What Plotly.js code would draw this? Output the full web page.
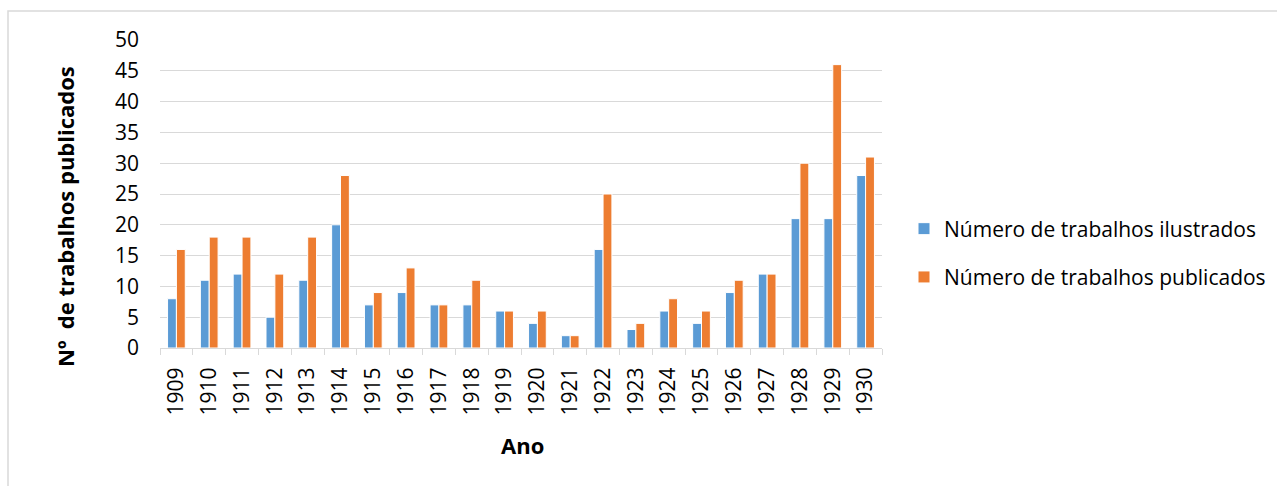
<!DOCTYPE html>
<html>
<head>
<meta charset="utf-8">
<script src="https://cdn.plot.ly/plotly-3.0.1.min.js"></script>
<style>
  html, body { margin: 0; padding: 0; background: #ffffff; }
  #chart { width: 1277px; height: 486px; }
</style>
</head>
<body>
<div id="chart"></div>
<script>
const years = ['1909','1910','1911','1912','1913','1914','1915','1916','1917','1918','1919','1920','1921','1922','1923','1924','1925','1926','1927','1928','1929','1930'];
const ilustrados = [8, 11, 12, 5, 11, 20, 7, 9, 7, 7, 6, 4, 2, 16, 3, 6, 4, 9, 12, 21, 21, 28];
const publicados = [16, 18, 18, 12, 18, 28, 9, 13, 7, 11, 6, 6, 2, 25, 4, 8, 6, 11, 12, 30, 46, 31];
const seriesNames = ['Número de trabalhos ilustrados', 'Número de trabalhos publicados'];
const yTicks = [0, 5, 10, 15, 20, 25, 30, 35, 40, 45, 50];
const xTitle = 'Ano';
const yTitle = 'Nº  de trabalhos publicados';

const FONT = 'Open Sans, Liberation Sans, sans-serif';
const W = 1277, H = 486;
const M = {l: 160, r: 395, t: 40, b: 138};
const pw = W - M.l - M.r, ph = H - M.t - M.b;
const px = x => (x - M.l) / pw;
const py = y => (H - M.b - y) / ph;

const traces = [
  {type: 'bar', x: years, y: ilustrados, name: seriesNames[0], legendgroup: 'a',
   marker: {color: '#5B9BD5', line: {color: '#ffffff', width: 1}}},
  {type: 'bar', x: years, y: publicados, name: seriesNames[1], legendgroup: 'b',
   marker: {color: '#ED7D31', line: {color: '#ffffff', width: 1}}}
];

const layout = {
  width: W, height: H,
  margin: M,
  paper_bgcolor: '#ffffff', plot_bgcolor: '#ffffff',
  font: {family: FONT, size: 21, color: '#000000'},
  barmode: 'group', bargap: 0.46, bargroupgap: 0,
  showlegend: true,
  legend: {
    xref: 'container', yref: 'container',
    x: 904 / W, y: (H - 253) / H, xanchor: 'left', yanchor: 'middle',
    font: {family: FONT, size: 21, color: '#000000'},
    tracegroupgap: 18, traceorder: 'grouped',
    bgcolor: 'rgba(0,0,0,0)', borderwidth: 0
  },
  xaxis: {
    type: 'category', tickangle: -90,
    showline: true, linecolor: '#D9D9D9', linewidth: 1,
    ticks: 'outside', tickson: 'boundaries', ticklen: 6, tickcolor: '#D9D9D9', tickwidth: 1,
    showgrid: false, ticklabelstandoff: 10,
    tickfont: {family: FONT, size: 21, color: '#000000'},
    fixedrange: true
  },
  yaxis: {
    range: [0, 50], tickvals: yTicks, ticktext: yTicks.map(String),
    showgrid: true, gridcolor: '#D9D9D9', gridwidth: 1,
    zeroline: false, showline: false, ticks: '',
    ticklabelstandoff: 20,
    tickfont: {family: FONT, size: 21, color: '#000000'},
    fixedrange: true
  },
  annotations: [
    {text: '<b>' + xTitle + '</b>', xref: 'paper', yref: 'paper', x: px(522), y: py(445),
     showarrow: false, xanchor: 'center', yanchor: 'middle',
     font: {family: FONT, size: 22, color: '#000000'}},
    {text: '<b>' + yTitle + '</b>', xref: 'paper', yref: 'paper', x: px(65), y: py(217),
     showarrow: false, xanchor: 'center', yanchor: 'middle', textangle: -90,
     font: {family: FONT, size: 22, color: '#000000'}}
  ],
  shapes: [
    {type: 'rect', xref: 'paper', yref: 'paper', layer: 'below',
     x0: px(8), x1: px(1300), y0: py(11), y1: py(520),
     line: {color: '#D9D9D9', width: 1.5}, fillcolor: 'rgba(0,0,0,0)'}
  ]
};

Plotly.newPlot('chart', traces, layout, {displayModeBar: false, staticPlot: true});
</script>
</body>
</html>
